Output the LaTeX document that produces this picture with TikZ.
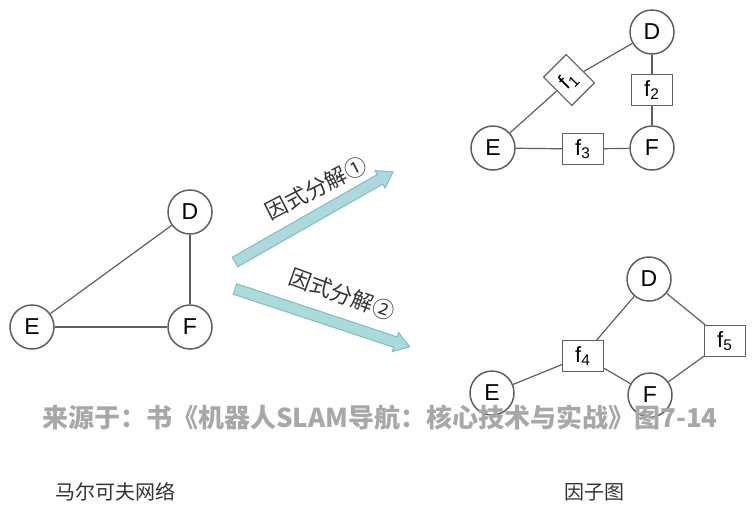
\documentclass[tikz,border=0pt]{standalone}
\usepackage{fontspec}
\setmainfont{Liberation Sans}
\newfontfamily\cjk{Noto Sans CJK SC}
\definecolor{arrfill}{RGB}{172,218,220}
\definecolor{arrdraw}{RGB}{128,188,192}
\definecolor{wm}{RGB}{168,168,168}
\definecolor{lin}{RGB}{95,95,95}
\begin{document}
\begin{tikzpicture}[x=0.5pt,y=-0.5pt,
  var/.style={circle,draw=lin,line width=0.75pt,minimum size=22pt,inner sep=0pt,font=\fontsize{11.5}{12}\selectfont},
  fac/.style={rectangle,draw=lin,line width=0.6pt,minimum width=20.5pt,minimum height=15.5pt,inner sep=0pt,font=\fontsize{11}{12}\selectfont},
  edge/.style={draw=lin,line width=0.6pt},
  bigarrow/.style={fill=arrfill,draw=arrdraw,line width=0.5pt},
  lab/.style={font=\cjk\fontsize{11}{12}\selectfont,text=black!80},
  captiontext/.style={font=\cjk\fontsize{10}{12}\selectfont,text=black!80}]
\useasboundingbox (0,0) rectangle (753,510);
% left Markov network
\node[var] (D0) at (190,212) {D};
\node[var] (E0) at (32,327) {E};
\node[var] (F0) at (190,327) {F};
\draw[edge] (E0) -- (D0);
\draw[edge] (D0) -- (F0);
\draw[edge] (E0) -- (F0);
% top right factor graph
\node[var] (D1) at (652,32) {D};
\node[var] (E1) at (493,148) {E};
\node[var] (F1) at (652,148) {F};
\node[fac,rotate=45,minimum width=16pt,minimum height=20pt] (f1) at (569,80) {f\textsubscript{1}};
\node[fac] (f2) at (652,90) {f\textsubscript{2}};
\node[fac] (f3) at (583,149) {f\textsubscript{3}};
\draw[edge] (E1) -- (f1);
\draw[edge] (f1) -- (D1);
\draw[edge] (D1) -- (f2);
\draw[edge] (f2) -- (F1);
\draw[edge] (E1) -- (f3);
\draw[edge] (f3) -- (F1);
% bottom right factor graph
\node[var] (D2) at (649,279) {D};
\node[var] (E2) at (492,393) {E};
\node[var] (F2) at (650,395) {F};
\node[fac] (f4) at (583,356) {f\textsubscript{4}};
\node[fac] (f5) at (725,341) {f\textsubscript{5}};
\draw[edge] (D2) -- (f4);
\draw[edge] (E2) -- (f4);
\draw[edge] (f4) -- (F2);
\draw[edge] (D2) -- (f5);
\draw[edge] (f5) -- (F2);
% block arrows
\begin{scope}[shift={(235,262)},rotate=29.7]
  \draw[bigarrow] (0,-5.5) -- (167,-5.5) -- (167,-10) -- (182,0) -- (167,10) -- (167,5.5) -- (0,5.5) -- cycle;
\end{scope}
\begin{scope}[shift={(235,289)},rotate=-18.3]
  \draw[bigarrow] (0,-5.5) -- (169,-5.5) -- (169,-10) -- (184,0) -- (169,10) -- (169,5.5) -- (0,5.5) -- cycle;
\end{scope}
\node[lab,rotate=27] (l1) at (316,188) {因式分解①};
\node[lab,rotate=-20] (l2) at (342,294) {因式分解②};
% watermark
\node[font=\cjk\bfseries\fontsize{13}{14}\selectfont,text=wm] (wm) at (380,418) {来源于：书《机器人SLAM导航：核心技术与实战》图7-14};
% captions
\node[captiontext] (c1) at (115,492) {马尔可夫网络};
\node[captiontext] (c2) at (594,492) {因子图};
\end{tikzpicture}
\end{document}
